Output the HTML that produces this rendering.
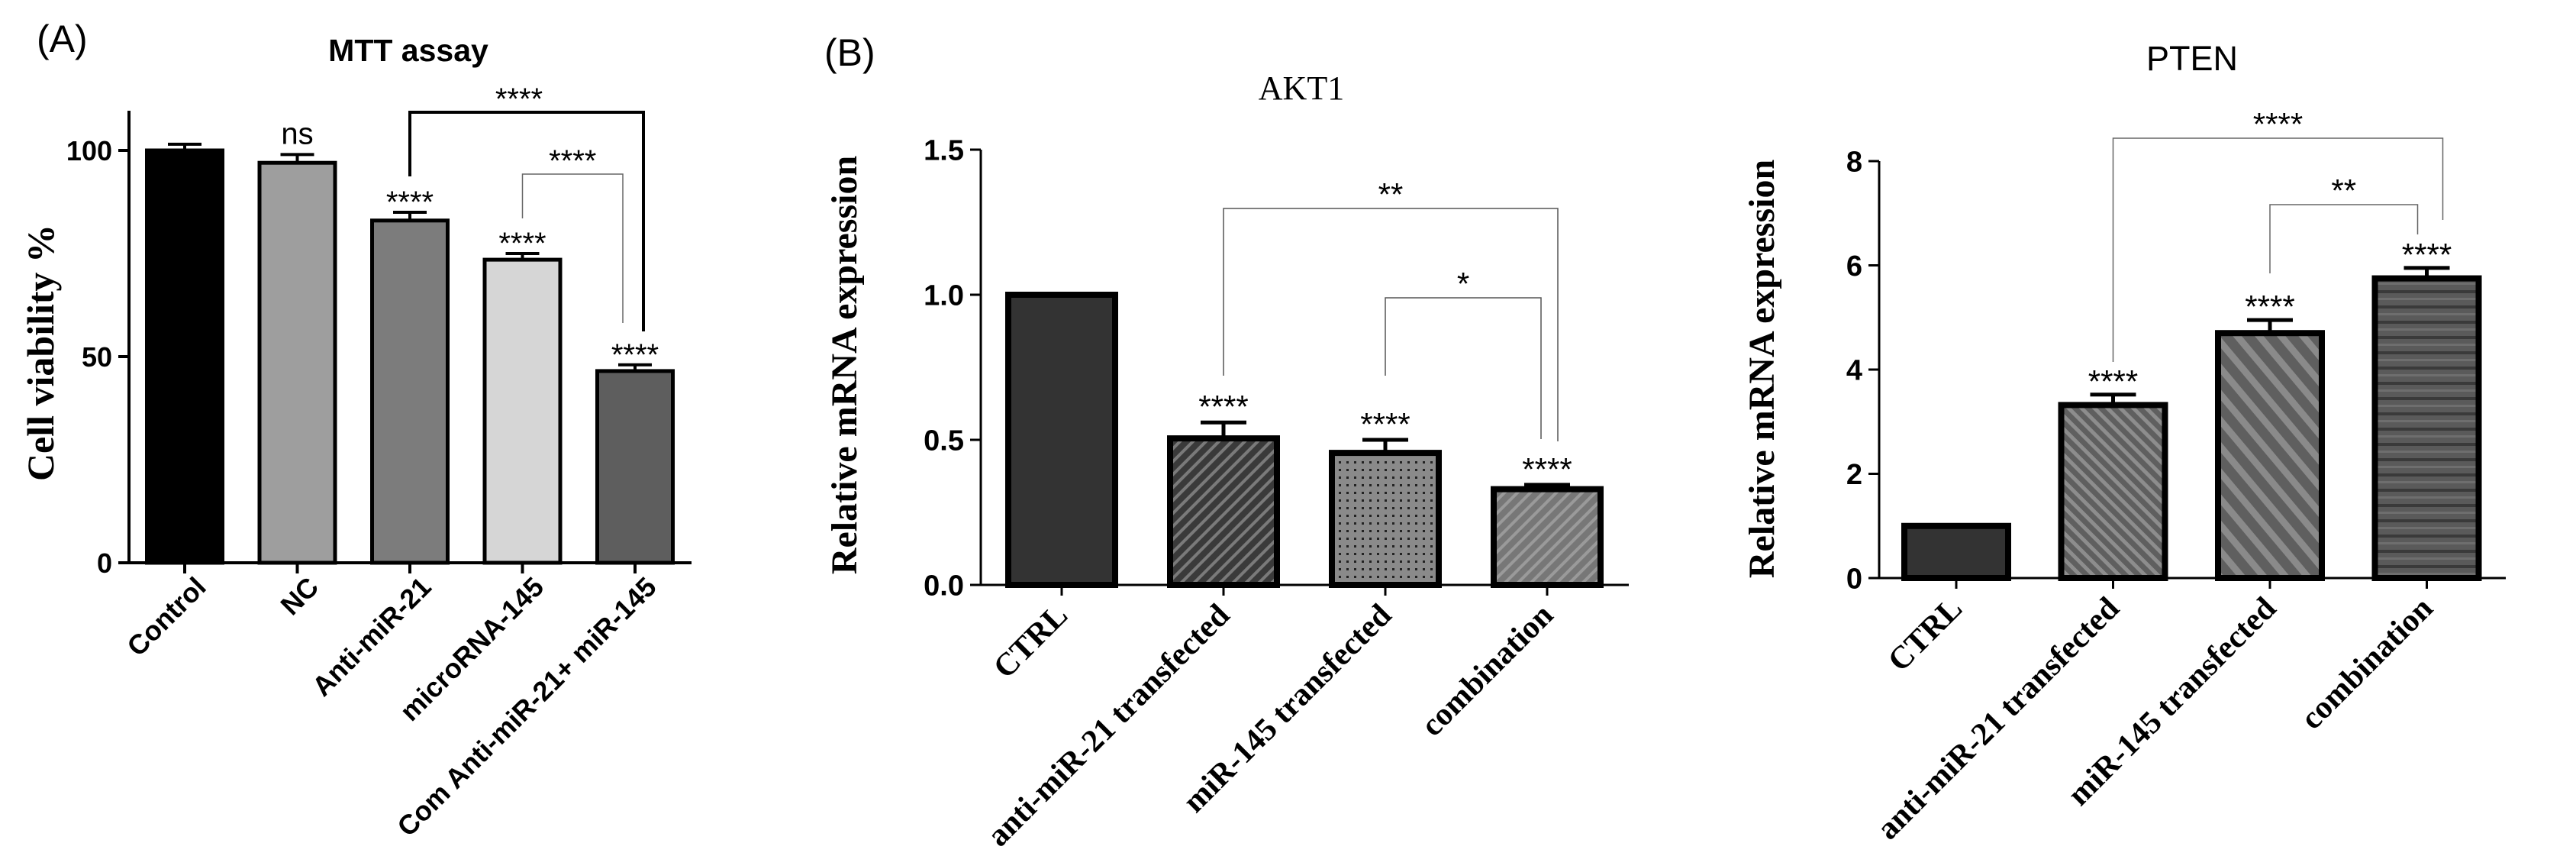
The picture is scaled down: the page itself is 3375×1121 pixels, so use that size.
<!DOCTYPE html>
<html><head><meta charset="utf-8">
<style>
html,body{margin:0;padding:0;background:#fff;}
svg{display:block;}
.sans{font-family:"Liberation Sans",Arial,sans-serif;}
.serif{font-family:"Liberation Serif","Times New Roman",serif;}
</style></head>
<body>
<svg id="fig" width="3375" height="1121" viewBox="0 0 3375 1121" xmlns="http://www.w3.org/2000/svg">
<defs>
  <pattern id="pA1" patternUnits="userSpaceOnUse" width="12" height="12" patternTransform="rotate(45)">
    <rect width="12" height="12" fill="#3a3a3a"/><rect width="4" height="12" fill="#7a7a7a"/>
  </pattern>
  <pattern id="pA2" patternUnits="userSpaceOnUse" width="10" height="10">
    <rect width="10" height="10" fill="#8a8a8a"/><rect x="4" y="4" width="3" height="3" fill="#222"/>
  </pattern>
  <pattern id="pA3" patternUnits="userSpaceOnUse" width="12" height="12" patternTransform="rotate(45)">
    <rect width="12" height="12" fill="#777"/><rect width="4" height="12" fill="#9a9a9a"/>
  </pattern>
  <pattern id="pP1" patternUnits="userSpaceOnUse" width="12" height="12" patternTransform="rotate(-45)">
    <rect width="12" height="12" fill="#5f5f5f"/><rect width="5" height="12" fill="#8d8d8d"/>
  </pattern>
  <pattern id="pP2" patternUnits="userSpaceOnUse" width="22" height="22" patternTransform="rotate(-40)">
    <rect width="22" height="22" fill="#5f5f5f"/><rect width="9" height="22" fill="#8a8a8a"/>
  </pattern>
  <pattern id="pP3" patternUnits="userSpaceOnUse" width="20" height="20">
    <rect width="20" height="20" fill="#5a5a5a"/><rect y="0" width="20" height="4" fill="#3a3a3a"/><rect y="10" width="20" height="3" fill="#6e6e6e"/>
  </pattern>
</defs>
<text x="48" y="68" class="sans" font-size="50">(A)</text>
<text x="1080" y="86" class="sans" font-size="50">(B)</text>
</svg>
<script>
// ---------- Panel A: MTT assay ----------
const mttCategories = ["Control","NC","Anti-miR-21","microRNA-145","Com Anti-miR-21+ miR-145"];
const mttValues = [100, 97, 83, 73.5, 46.5];
const mttErrors = [1.5, 2, 2, 1.5, 1.5];
const mttStars = ["", "ns", "****", "****", "****"];
const mttTicks = [0, 50, 100];
// ---------- Panel B: AKT1 ----------
const aktCategories = ["CTRL","anti-miR-21 transfected","miR-145 transfected","combination"];
const aktValues = [1.0, 0.505, 0.455, 0.33];
const aktErrors = [0, 0.055, 0.045, 0.015];
const aktStars = ["", "****", "****", "****"];
const aktTicks = [0.0, 0.5, 1.0, 1.5];
// ---------- Panel C: PTEN ----------
const ptenCategories = ["CTRL","anti-miR-21 transfected","miR-145 transfected","combination"];
const ptenValues = [1.0, 3.32, 4.7, 5.75];
const ptenErrors = [0, 0.2, 0.25, 0.2];
const ptenStars = ["", "****", "****", "****"];
const ptenTicks = [0, 2, 4, 6, 8];

const NS = "http://www.w3.org/2000/svg";
const svg = document.getElementById("fig");
function mk(tag, attrs, parent, text) {
  const e = document.createElementNS(NS, tag);
  for (const k in attrs) e.setAttribute(k, attrs[k]);
  if (text !== undefined) e.textContent = text;
  (parent || svg).appendChild(e);
  return e;
}

function drawPanel(cfg) {
  const g = mk("g", {});
  
  
  const y = v => cfg.y0 - (v - cfg.vmin) / (cfg.vmax - cfg.vmin) * (cfg.y0 - cfg.y1);
  const x = i => cfg.xc0 + i * cfg.step;
  const t = mk("text", {x: cfg.titleX, y: cfg.titleY, "text-anchor": "middle", "font-size": cfg.titleSize, "font-weight": cfg.titleWeight, class: cfg.titleClass}, g, cfg.title);
  
  
  const yt = mk("text", {x: 0, y: 0, "text-anchor": "middle", "font-size": cfg.ytSize, "font-weight": "bold", class: "serif", transform: `translate(${cfg.ytX},${cfg.ytY}) rotate(-90)`}, g, cfg.yTitle);
  
  
  cfg.values.forEach((v, i) => {
    const bx = x(i) - cfg.bw / 2, by = y(v);
    const r = mk("rect", {x: bx + cfg.sw/2, y: by, width: cfg.bw - cfg.sw, height: cfg.y0 - by, fill: cfg.fills[i], stroke: "#000", "stroke-width": cfg.sw}, g);
    
    
    const e = cfg.errors[i];
    if (e > 0) {
      const ey = y(v + e);
      const el = mk("path", {d: `M${x(i)},${by} V${ey} M${x(i)-cfg.capW},${ey} H${x(i)+cfg.capW}`, stroke: "#000", "stroke-width": cfg.ebw, fill: "none"}, g);
      
      
    }
    if (cfg.stars[i]) {
      const top = y(v + e);
      const isNs = cfg.stars[i] === "ns";
      const st = mk("text", {x: x(i), y: isNs ? top - 14 : top + cfg.starOff, "text-anchor": "middle", "font-size": isNs ? cfg.nsSize : cfg.starSize, class: "sans"}, g, cfg.stars[i]);
      
      
    }
  });
  const ax = mk("path", {d: `M${cfg.axX},${cfg.yTop} V${cfg.y0} M${cfg.axX - cfg.tickLen},${cfg.y0} H${cfg.xEnd}`, stroke: "#000", "stroke-width": cfg.aw, fill: "none"}, g);
  
  
  cfg.ticks.forEach(tv => {
    const tk = mk("line", {x1: cfg.axX - cfg.tickLen, x2: cfg.axX, y1: y(tv), y2: y(tv), stroke: "#000", "stroke-width": cfg.aw}, g);
    
    
    const tl = mk("text", {x: cfg.axX - cfg.tickLen - 8, y: y(tv) + cfg.tickSize * 0.36, "text-anchor": "end", "font-size": cfg.tickSize, "font-weight": "bold", class: "sans"}, g, cfg.tickFmt(tv));
    
    
  });
  cfg.categories.forEach((c, i) => {
    const tk = mk("line", {x1: x(i), x2: x(i), y1: cfg.y0, y2: cfg.y0 + cfg.tickLen, stroke: "#000", "stroke-width": cfg.aw}, g);
    
    
    const lx = x(i) + cfg.lblDx, ly = cfg.y0 + cfg.lblDy;
    const tl = mk("text", {x: 0, y: 0, "text-anchor": "end", "font-size": cfg.lblSize, "font-weight": "bold", class: cfg.lblClass, transform: `translate(${lx},${ly}) rotate(-45)`}, g, c);
    
    
  });
  cfg.brackets.forEach(b => {
    const bx1 = x(b.from), bx2 = x(b.to) + (b.dx || 0);
    const p = mk("path", {d: `M${bx1},${b.yl} V${b.yt} H${bx2} V${b.yr}`, stroke: b.color, "stroke-width": b.w, fill: "none"}, g);
    
    
    const bt = mk("text", {x: (bx1 + bx2) / 2 + (b.tdx || 0), y: b.yt - 4, "text-anchor": "middle", "font-size": cfg.starSize, class: "sans"}, g, b.label);
    
    
  });
}

drawPanel({
  name: "mtt-chart", title: "MTT assay", titleX: 535, titleY: 80, titleSize: 41, titleWeight: "bold", titleClass: "sans",
  yTitle: "Cell viability %", ytX: 70, ytY: 462, ytSize: 50,
  categories: mttCategories, values: mttValues, errors: mttErrors, stars: mttStars, ticks: mttTicks,
  tickFmt: v => String(v), vmin: 0, vmax: 100, y0: 737, y1: 197, yTop: 145,
  xc0: 242, step: 147.5, bw: 104, sw: 5, capW: 22, ebw: 4, axX: 169, xEnd: 906, tickLen: 14, aw: 4,
  tickSize: 36, lblSize: 36, lblClass: "sans", lblDx: 30, lblDy: 34, starSize: 40, starOff: 0, nsSize: 40,
  fills: ["#000", "#9e9e9e", "#7c7c7c", "#d6d6d6", "#5e5e5e"],
  brackets: [
    {from: 2, to: 4, dx: 11, yl: 231, yt: 147, yr: 434, color: "#000", w: 4, label: "****", tdx: -10},
    {from: 3, to: 4, dx: -16, yl: 286, yt: 228, yr: 423, color: "#666", w: 1.5, label: "****"}
  ]
});
drawPanel({
  name: "akt1-chart", title: "AKT1", titleX: 1705, titleY: 130, titleSize: 44, titleWeight: "normal", titleClass: "serif",
  yTitle: "Relative mRNA expression", ytX: 1122, ytY: 478, ytSize: 48,
  categories: aktCategories, values: aktValues, errors: aktErrors, stars: aktStars, ticks: aktTicks,
  tickFmt: v => v.toFixed(1), vmin: 0, vmax: 1.5, y0: 766, y1: 196, yTop: 196,
  xc0: 1391, step: 212, bw: 148, sw: 8, capW: 30, ebw: 5, axX: 1285, xEnd: 2134, tickLen: 14, aw: 3,
  tickSize: 38, lblSize: 42, lblClass: "serif", lblDx: 10, lblDy: 42, starSize: 42, starOff: -6, nsSize: 40,
  fills: ["#333", "url(#pA1)", "url(#pA2)", "url(#pA3)"],
  brackets: [
    {from: 1, to: 3, dx: 14, yl: 492, yt: 273, yr: 578, color: "#555", w: 1.5, label: "**"},
    {from: 2, to: 3, dx: -8, yl: 492, yt: 390, yr: 575, color: "#555", w: 1.5, label: "*"}
  ]
});
drawPanel({
  name: "pten-chart", title: "PTEN", titleX: 2872, titleY: 92, titleSize: 45, titleWeight: "normal", titleClass: "sans",
  yTitle: "Relative mRNA expression", ytX: 2324, ytY: 483, ytSize: 48,
  categories: ptenCategories, values: ptenValues, errors: ptenErrors, stars: ptenStars, ticks: ptenTicks,
  tickFmt: v => String(v), vmin: 0, vmax: 8, y0: 757, y1: 211, yTop: 211,
  xc0: 2563, step: 205.5, bw: 144, sw: 8, capW: 30, ebw: 5, axX: 2462, xEnd: 3283, tickLen: 14, aw: 3,
  tickSize: 38, lblSize: 42, lblClass: "serif", lblDx: 10, lblDy: 42, starSize: 42, starOff: -3, nsSize: 40,
  fills: ["#333", "url(#pP1)", "url(#pP2)", "url(#pP3)"],
  brackets: [
    {from: 1, to: 3, dx: 21, yl: 474, yt: 181, yr: 288, color: "#666", w: 1.5, label: "****"},
    {from: 2, to: 3, dx: -12, yl: 358, yt: 268, yr: 307, color: "#666", w: 1.5, label: "**"}
  ]
});
</script>
</body></html>
